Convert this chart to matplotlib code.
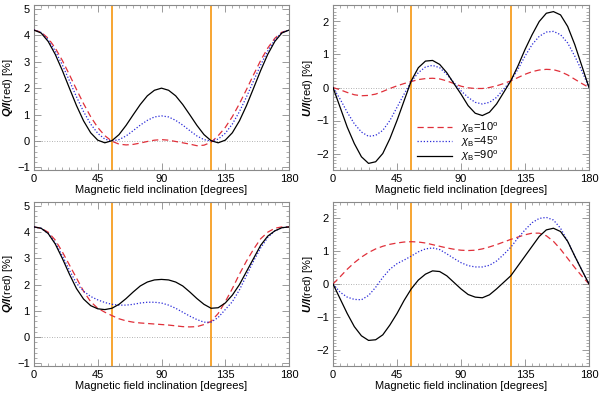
import matplotlib
matplotlib.use("Agg")
import matplotlib.pyplot as plt
from matplotlib.ticker import MultipleLocator

plt.rcParams['font.family'] = ['Liberation Sans', 'DejaVu Sans']
plt.rcParams['mathtext.fontset'] = 'custom'
plt.rcParams['mathtext.rm'] = 'Liberation Sans'
plt.rcParams['mathtext.it'] = 'Liberation Sans:italic'
plt.rcParams['mathtext.bf'] = 'Liberation Sans:bold'
plt.rcParams['mathtext.bfit'] = 'Liberation Sans:bold:italic'

# inclination grid (degrees)
theta = [0, 5, 10, 15, 20, 25, 30, 35, 40, 45, 50, 55, 60, 65, 70, 75, 80, 85, 90,
         95, 100, 105, 110, 115, 120, 125, 130, 135, 140, 145, 150, 155, 160, 165, 170, 175, 180]

# Top-left: Q/I (red)
q1_10 = [4.2, 4.12, 3.89, 3.52, 3.05, 2.51, 1.95, 1.41, 0.92, 0.51, 0.2, -0.01, -0.12, -0.15, -0.13, -0.08, -0.02, 0.03, 0.05,
         0.03, -0.02, -0.07, -0.12, -0.18, -0.16, -0.05, 0.2, 0.51, 0.92, 1.41, 1.95, 2.51, 3.05, 3.52, 3.89, 4.12, 4.2]
q1_45 = [4.2, 4.11, 3.83, 3.41, 2.88, 2.28, 1.67, 1.11, 0.64, 0.29, 0.07, 0.0, 0.05, 0.19, 0.39, 0.6, 0.78, 0.91, 0.95,
         0.91, 0.78, 0.6, 0.39, 0.19, 0.05, 0.0, 0.07, 0.29, 0.64, 1.11, 1.67, 2.28, 2.88, 3.41, 3.83, 4.11, 4.2]
q1_90 = [4.2, 4.09, 3.77, 3.28, 2.67, 2.0, 1.34, 0.76, 0.31, 0.03, -0.07, 0.01, 0.24, 0.59, 0.99, 1.38, 1.71, 1.92, 2.0,
         1.92, 1.71, 1.38, 0.99, 0.59, 0.24, 0.01, -0.07, 0.03, 0.31, 0.76, 1.34, 2.0, 2.67, 3.28, 3.77, 4.09, 4.2]

# Top-right: U/I (red)
u1_10 = [0.0, -0.07, -0.15, -0.22, -0.25, -0.24, -0.2, -0.12, -0.03, 0.05, 0.12, 0.18, 0.24, 0.27, 0.28, 0.26, 0.2, 0.12, 0.04,
         -0.01, -0.03, -0.03, 0.0, 0.05, 0.12, 0.2, 0.3, 0.4, 0.48, 0.53, 0.55, 0.54, 0.48, 0.38, 0.25, 0.12, 0.0]
u1_45 = [0.0, -0.35, -0.75, -1.1, -1.35, -1.48, -1.45, -1.3, -1.0, -0.6, -0.2, 0.18, 0.45, 0.62, 0.67, 0.6, 0.4, 0.15, -0.1,
         -0.3, -0.45, -0.5, -0.45, -0.3, -0.05, 0.2, 0.55, 0.95, 1.3, 1.55, 1.68, 1.7, 1.6, 1.35, 0.95, 0.5, 0.0]
u1_90 = [0.0, -0.6, -1.2, -1.7, -2.1, -2.3, -2.25, -2.0, -1.55, -1.0, -0.4, 0.2, 0.6, 0.8, 0.82, 0.7, 0.45, 0.12, -0.2,
         -0.55, -0.78, -0.85, -0.75, -0.5, -0.15, 0.2, 0.65, 1.15, 1.6, 2.0, 2.25, 2.3, 2.2, 1.85, 1.3, 0.65, 0.0]

# Bottom-left: Q/I (red)
q2_10 = [4.2, 4.15, 4.0, 3.7, 3.25, 2.75, 2.25, 1.75, 1.35, 1.1, 0.95, 0.82, 0.7, 0.62, 0.57, 0.54, 0.52, 0.5, 0.48,
         0.46, 0.43, 0.4, 0.39, 0.4, 0.48, 0.6, 0.9, 1.35, 1.85, 2.4, 2.9, 3.35, 3.75, 4.0, 4.15, 4.2, 4.2]
q2_45 = [4.2, 4.15, 3.95, 3.6, 3.1, 2.55, 2.05, 1.75, 1.55, 1.42, 1.32, 1.25, 1.22, 1.22, 1.25, 1.3, 1.33, 1.33, 1.3,
         1.22, 1.1, 0.95, 0.8, 0.67, 0.57, 0.57, 0.75, 1.05, 1.35, 1.8, 2.35, 2.9, 3.4, 3.8, 4.05, 4.17, 4.2]
q2_90 = [4.2, 4.15, 3.95, 3.55, 3.0, 2.4, 1.85, 1.45, 1.2, 1.08, 1.05, 1.1, 1.25, 1.47, 1.72, 1.95, 2.1, 2.18, 2.2,
         2.18, 2.1, 1.95, 1.72, 1.47, 1.25, 1.1, 1.12, 1.3, 1.6, 2.0, 2.5, 3.0, 3.5, 3.85, 4.05, 4.17, 4.2]

# Bottom-right: U/I (red)
u2_10 = [0.0, 0.22, 0.45, 0.65, 0.82, 0.96, 1.07, 1.15, 1.21, 1.25, 1.28, 1.29, 1.28, 1.25, 1.2, 1.15, 1.1, 1.06, 1.03,
         1.02, 1.03, 1.07, 1.13, 1.2, 1.28, 1.36, 1.43, 1.5, 1.55, 1.55, 1.47, 1.3, 1.06, 0.78, 0.5, 0.24, 0.0]
u2_45 = [0.0, -0.25, -0.4, -0.47, -0.48, -0.35, -0.1, 0.2, 0.45, 0.62, 0.73, 0.85, 0.98, 1.07, 1.1, 1.05, 0.92, 0.78, 0.65,
         0.56, 0.52, 0.52, 0.57, 0.7, 0.9, 1.12, 1.4, 1.65, 1.87, 2.0, 2.03, 1.95, 1.7, 1.3, 0.85, 0.42, 0.0]
u2_90 = [0.0, -0.45, -0.9, -1.3, -1.58, -1.72, -1.7, -1.55, -1.25, -0.9, -0.5, -0.15, 0.12, 0.3, 0.4, 0.38, 0.25, 0.05, -0.15,
         -0.32, -0.4, -0.42, -0.33, -0.15, 0.05, 0.25, 0.55, 0.85, 1.15, 1.45, 1.65, 1.7, 1.6, 1.3, 0.85, 0.42, 0.0]

van_vleck = [54.74, 125.26]
x_ticks = [0, 45, 90, 135, 180]
q_yticks = [-1, 0, 1, 2, 3, 4, 5]
u_yticks = [-2, -1, 0, 1, 2]
legend_labels = [r'$\chi_{\rm B}$=10$^{\rm o}$', r'$\chi_{\rm B}$=45$^{\rm o}$', r'$\chi_{\rm B}$=90$^{\rm o}$']
xlabel = 'Magnetic field inclination [degrees]'
q_ylabel = r'$\mathbfit{Q/I}$(red) [%]'
u_ylabel = r'$\mathbfit{U/I}$(red) [%]'

FS = 8.0
fig = plt.figure(figsize=(6.0, 3.96), dpi=100)
W, H = 600.0, 396.0

def make_ax(l, r, t, b):
    return fig.add_axes([l / W, 1 - b / H, (r - l) / W, (b - t) / H])

axes = [make_ax(34, 289, 5, 170), make_ax(333, 589, 5, 170),
        make_ax(34, 289, 202, 366), make_ax(333, 589, 202, 366)]
data = [(q1_10, q1_45, q1_90, 'Q'), (u1_10, u1_45, u1_90, 'U'),
        (q2_10, q2_45, q2_90, 'Q'), (u2_10, u2_45, u2_90, 'U')]

red = '#e0303a'
blue = '#2a2ad8'
gray = '#8a8a8a'
orange = '#f7a531'

for i, (ax, (s10, s45, s90, kind)) in enumerate(zip(axes, data)):
    ax.axhline(0, color='#9a9a9a', lw=0.6, ls=(0, (1, 2)), zorder=1)
    for v in van_vleck:
        ax.axvline(v, color=orange, lw=1.4, zorder=2)
    l1, = ax.plot(theta, s10, color=red, lw=0.9, ls=(0, (5, 3)), zorder=3)
    l2, = ax.plot(theta, s45, color=blue, lw=0.9, ls=(0, (1, 1.5)), zorder=3)
    l3, = ax.plot(theta, s90, color='black', lw=0.9, zorder=3)
    ax.set_xlim(0, 180)
    ax.set_xticks(x_ticks)
    ax.xaxis.set_minor_locator(MultipleLocator(5))
    if kind == 'Q':
        ax.set_ylim(-1.1, 5.15)
        ax.set_yticks(q_yticks)
        ax.yaxis.set_minor_locator(MultipleLocator(0.2))
        ax.set_ylabel(q_ylabel, fontsize=8.0)
    else:
        ax.set_ylim(-2.5, 2.5)
        ax.set_yticks(u_yticks)
        ax.yaxis.set_minor_locator(MultipleLocator(0.1))
        ax.set_ylabel(u_ylabel, fontsize=8.0)
    # place y-label so it sits about 4-15 px from the panel's left figure edge
    bb = ax.get_position()
    left_px = bb.x0 * W
    panel_edge = 0 if i % 2 == 0 else 300
    ax.yaxis.set_label_coords((panel_edge + 15 - left_px) / (bb.width * W), 0.5)
    ax.set_xlabel(xlabel, fontsize=FS, labelpad=0.5)
    ax.tick_params(which='both', direction='in', top=True, right=True, color=gray,
                   labelsize=FS, pad=3)
    ax.tick_params(which='major', length=5, width=0.6)
    ax.tick_params(which='minor', length=2.5, width=0.5)
    for sp in ax.spines.values():
        sp.set_color(gray)
        sp.set_linewidth(0.8)
    if i == 1:
        ax.legend([l1, l2, l3], legend_labels, loc='lower left',
                  bbox_to_anchor=(0.33, 0.04), frameon=False, fontsize=FS,
                  handlelength=3.1, handletextpad=0.8, labelspacing=0.0,
                  borderpad=0, borderaxespad=0)

fig.savefig('out.png', dpi=100)
